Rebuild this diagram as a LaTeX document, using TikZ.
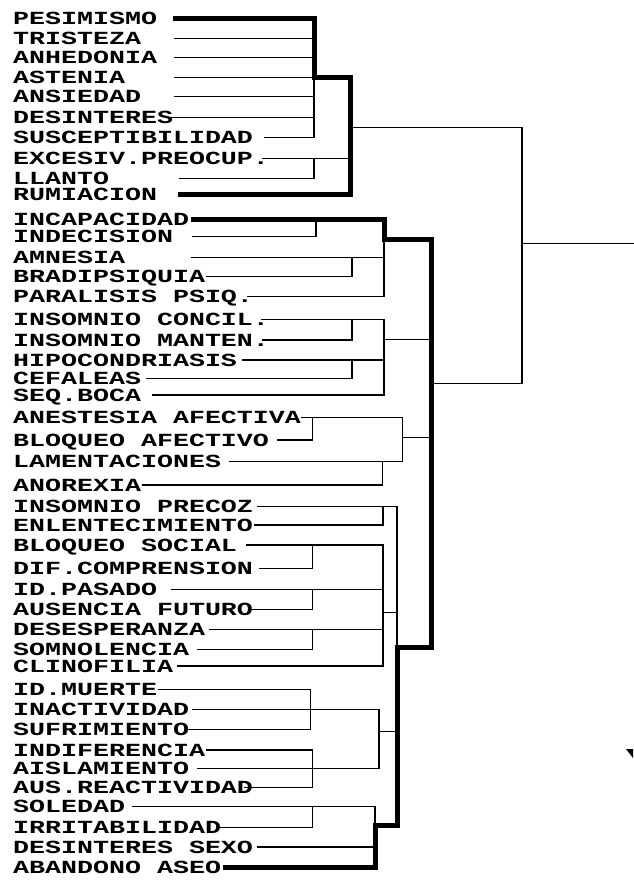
\documentclass[tikz,border=0pt]{standalone}
\usepackage{fontspec}
\newfontfamily\lblfont{Liberation Mono}
\begin{document}
\begin{tikzpicture}[x=1pt,y=-1pt,
  thn/.style={line width=1.5pt,line cap=rect},
  thk/.style={line width=5pt,line join=miter,line cap=rect},
  lbl/.style={anchor=base west,inner sep=0pt,font=\lblfont\bfseries\fontsize{18.5}{18.5}\selectfont}]
\useasboundingbox (0,0) rectangle (633,880);
\fill[white] (0,0) rectangle (633,880);
\foreach \i/\lab/\yy/\sx in {
0/PESIMISMO/18.3/175, 1/TRISTEZA/38.3/175, 2/ANHEDONIA/57.3/175, 3/ASTENIA/77.3/175,
4/ANSIEDAD/96.7/175, 5/DESINTERES/117.3/172, 6/SUSCEPTIBILIDAD/137.3/265,
7/EXCESIV.PREOCUP./158.3/263, 8/LLANTO/178.3/180, 9/RUMIACION/194.3/180,
10/INCAPACIDAD/219.3/193, 11/INDECISION/236.7/193, 12/AMNESIA/257.3/192,
13/BRADIPSIQUIA/276.7/207, 14/PARALISIS PSIQ./296.7/248, 15/INSOMNIO CONCIL./319.3/262,
16/INSOMNIO MANTEN./340/263, 17/HIPOCONDRIASIS/360/243, 18/CEFALEAS/378.3/147,
19/SEQ.BOCA/395/153, 20/ANESTESIA AFECTIVA/417.7/302, 21/BLOQUEO AFECTIVO/440/278,
22/LAMENTACIONES/461.7/230, 23/ANOREXIA/485/143, 24/INSOMNIO PRECOZ/506.7/258,
25/ENLENTECIMIENTO/525/255, 26/BLOQUEO SOCIAL/545/247, 27/DIF.COMPRENSION/568.3/260,
28/ID.PASADO/589.3/172, 29/AUSENCIA FUTURO/609.3/253, 30/DESESPERANZA/629.3/210,
31/SOMNOLENCIA/649.3/198, 32/CLINOFILIA/666/178, 33/ID.MUERTE/689.3/159,
34/INACTIVIDAD/709.3/193, 35/SUFRIMIENTO/729.3/189, 36/INDIFERENCIA/750/207,
37/AISLAMIENTO/768.3/198, 38/AUS.REACTIVIDAD/787.3/245, 39/SOLEDAD/806.7/133,
40/IRRITABILIDAD/827.5/220, 41/DESINTERES SEXO/847/258, 42/ABANDONO ASEO/867/225}
{
  \node[lbl] (l\i) at (13,\yy+6) {\scalebox{1.44}[1]{\lab}};
  \coordinate (s\i) at (\sx,\yy);
}
% join columns
\coordinate (xA) at (314,0);
\coordinate (xT) at (350,0);
\coordinate (xR) at (522,0);
\coordinate (xI) at (316,0);
\coordinate (xC1) at (352,0);
\coordinate (xC) at (384,0);
\coordinate (xM) at (431,0);
\coordinate (xE1) at (312.5,0);
\coordinate (xE2) at (382.3,0);
\coordinate (xE) at (402.7,0);
\coordinate (xF) at (383,0);
\coordinate (xF2) at (397,0);
\coordinate (xG1) at (310.7,0);
\coordinate (xG) at (379,0);
\coordinate (xH) at (375,0);
% top cluster
\foreach \i in {1,...,6} \draw[thn] (s\i) -- (s\i -| xA);
\draw[thn] (s3 -| xA) -- (s6 -| xA);
\draw[thn] (s7) -- (s7 -| xT);
\draw[thn] (s8) -| (s7 -| xA);
\draw[thk] (s0) -| (s3 -| xA) -- (s3 -| xT) |- (s9);
% root
\coordinate (c1) at (350,127.3);
\coordinate (c2) at (431,383.3);
\coordinate (c0) at (522,243.3);
\coordinate (rootend) at (633,243.3);
\draw[thn] (c1) -| (c0) |- (c2);
\draw[thn] (c0) -- (rootend);
% second cluster: group C
\draw[thn] (s11) -| (s10 -| xI);
\draw[thn] (s12) -- (s12 -| xC);
\draw[thn] (s13) -| (s12 -| xC1);
\draw[thn] (s14) -| (s10 -| xC);
% group D
\foreach \i in {15,17,19} \draw[thn] (s\i) -- (s\i -| xC);
\draw[thn] (s16) -| (s15 -| xC1);
\draw[thn] (s18) -| (s17 -| xC1);
\draw[thn] (s15 -| xC) -- (s19 -| xC);
\coordinate (dC) at (384,339.3);
\draw[thn] (dC) -- (dC -| xM);
% group E
\draw[thn] (s20) -- (s20 -| xE);
\draw[thn] (s21) -| (s20 -| xE1);
\draw[thn] (s22) -- (s22 -| xE);
\draw[thn] (s23) -| (s22 -| xE2);
\draw[thn] (s20 -| xE) -- (s22 -| xE);
\coordinate (eC) at (402.7,437.7);
\draw[thn] (eC) -- (eC -| xM);
% group F
\draw[thn] (s24) -- (s24 -| xF2);
\draw[thn] (s25) -| (s24 -| xF);
\foreach \i in {26,28,30,32} \draw[thn] (s\i) -- (s\i -| xF);
\draw[thn] (s27) -| (s26 -| xE1);
\draw[thn] (s29) -| (s28 -| xE1);
\draw[thn] (s31) -| (s30 -| xE1);
\draw[thn] (s26 -| xF) -- (s32 -| xF);
\coordinate (fC) at (383,612.7);
\draw[thn] (fC) -- (fC -| xF2);
\coordinate (k2) at (431,647);
\draw[thn] (s24 -| xF2) -- (k2 -| xF2);
% group G
\draw[thn] (s33) -- (s33 -| xG1);
\draw[thn] (s35) -| (s33 -| xG1);
\draw[thn] (s34) -- (s34 -| xG);
\draw[thn] (s36) -- (s36 -| xE1);
\draw[thn] (s38) -| (s36 -| xE1);
\draw[thn] (s37) -- (s37 -| xG);
\draw[thn] (s34 -| xG) -- (s37 -| xG);
\coordinate (gC) at (379,731.7);
\draw[thn] (gC) -- (gC -| xF2);
% group H
\coordinate (k1) at (384,239);
\coordinate (k3) at (397,825);
\draw[thn] (s39) -- (s39 -| xH);
\draw[thn] (s40) -| (s39 -| xE1);
\draw[thn] (s41) -- (s41 -| xH);
\draw[thn] (s39 -| xH) -- (k3 -| xH);
% thick path of second cluster
\draw[thk] (s10) -| (k1) -| (k2) -| (k3) -| (s42 -| xH) -- (s42);
% small mark
\coordinate (m1) at (626,749);
\coordinate (m2) at (633,749);
\coordinate (m3) at (633,758);
\fill (m1) -- (m2) -- (m3) -- cycle;
\end{tikzpicture}
\end{document}
